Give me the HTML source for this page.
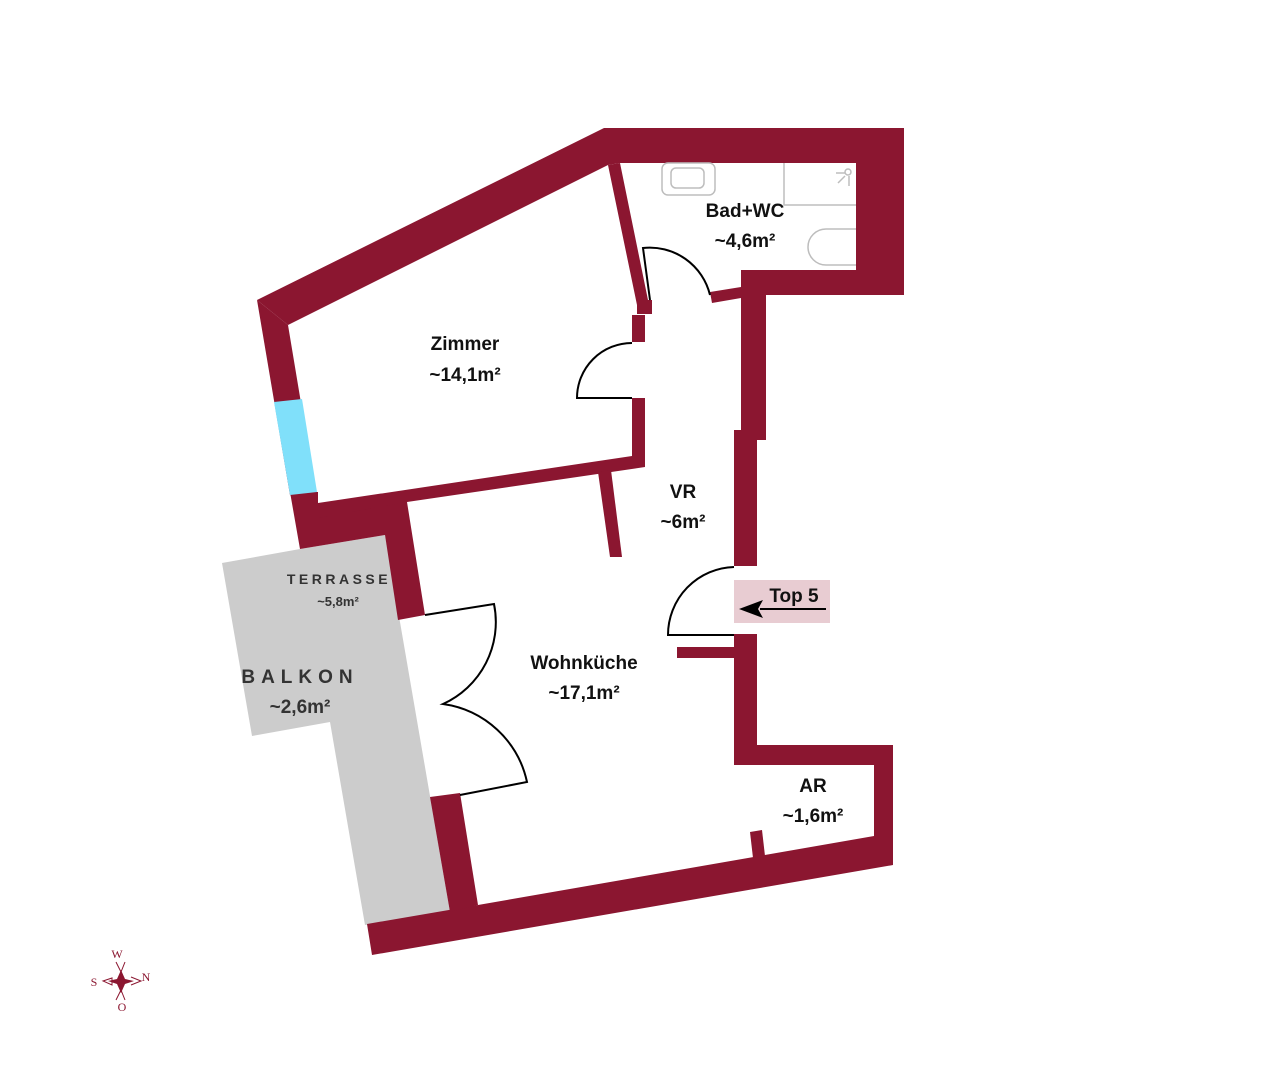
<!DOCTYPE html>
<html><head><meta charset="utf-8"><style>
html,body{margin:0;padding:0;background:#fff;}
svg{display:block;}
text{font-family:"Liberation Sans",sans-serif;}
.serif{font-family:"Liberation Serif",serif;}
</style></head><body>
<svg width="1269" height="1080" viewBox="0 0 1269 1080" xmlns="http://www.w3.org/2000/svg">
<rect width="1269" height="1080" fill="#fff"/>
<polygon points="222,563 300,549 385,535 450,912 365,925 330,722 252,736" fill="#cccccc"/>
<g fill="#8b1630">
<polygon points="257,300 604,128 904,128 904,295 741,295 741,270 856,270 856,163 620,163 608,165 288,325"/>
<polygon points="257,300 288,325 318,505 290,495"/>
<polygon points="290,492 318,492 318,505 407,498 407,502 425,615 398,620 385,535 300,549"/>
<polygon points="318,503 632,456 645,456 645,467 407,502 318,518"/>
<polygon points="632,398 645,398 645,465 632,465"/>
<polygon points="632,315 645,315 645,342 632,342"/>
<polygon points="608,165 620,163 648,300 652,300 652,314 637,314 637,305"/>
<polygon points="710,292 741,287 741,298 712,303"/>
<polygon points="741,270 766,270 766,440 741,440"/>
<polygon points="734,430 757,430 757,566 734,566"/>
<polygon points="734,634 757,634 757,745 734,745"/>
<polygon points="598,472 611,470 622,557 610,557"/>
<polygon points="677,647 734,647 734,658 677,658"/>
<polygon points="734,745 893,745 893,865 372,955 367,924 478,905 874,836 874,765 734,765"/>
<polygon points="750,832 762,830 765,856 753,858"/>
<polygon points="430,797 460,793 478,905 450,912"/>
</g>
<polygon points="274,402 302,399 317,492 290,495" fill="#80e0fa"/>
<g fill="none" stroke="#000" stroke-width="2">
<path d="M632,398 L577,398 A55,55 0 0 1 632,343"/>
<path d="M650,300 L643,248 A62,62 0 0 1 710,295"/>
<path d="M734,635 L668,635 A68,68 0 0 1 734,567"/>
<path d="M425,615 L494,604 A90,90 0 0 1 443,704 A100,100 0 0 1 527,782 L460,795"/>
</g>
<g fill="none" stroke="#bdbdbd" stroke-width="1.5">
<rect x="662" y="163" width="53" height="32" rx="6"/>
<rect x="671" y="168" width="33" height="20" rx="5"/>
<path d="M784,163 V205 H856"/>
<path d="M856,229 H826 A18,18 0 0 0 826,265 H856"/>
<circle cx="848" cy="172" r="3"/>
<path d="M836,173 H845 M845,176 L838,183 M849,176 V186"/>
</g>
<rect x="734" y="580" width="96" height="43" fill="#e8ccd2"/>
<line x1="760" y1="609" x2="826" y2="609" stroke="#000" stroke-width="2"/>
<polygon points="739,609 763,600 758,609 763,618" fill="#000"/>
<g font-weight="bold" fill="#111" font-size="19" text-anchor="middle">
<text x="745" y="217">Bad+WC</text>
<text x="745" y="247">~4,6m²</text>
<text x="465" y="350">Zimmer</text>
<text x="465" y="381">~14,1m²</text>
<text x="683" y="498">VR</text>
<text x="683" y="528">~6m²</text>
<text x="584" y="669">Wohnküche</text>
<text x="584" y="699">~17,1m²</text>
<text x="813" y="792">AR</text>
<text x="813" y="822">~1,6m²</text>
<text x="794" y="602">Top 5</text>
</g>
<g fill="#333" font-weight="bold" text-anchor="middle">
<text x="339" y="584" font-size="14" letter-spacing="3.5">TERRASSE</text>
<text x="338" y="606" font-size="13">~5,8m²</text>
<text x="300" y="683" font-size="19" letter-spacing="6">BALKON</text>
<text x="300" y="713" font-size="19">~2,6m²</text>
</g>
<g fill="#8b1630" stroke="#8b1630">
<polygon points="121,970 125,979 134,981 125,984 121,993 117,984 108,981 117,979" stroke="none"/>
<path d="M116,962 L121,972 L125,962 M103,981 L112,978 L112,985 Z M131,977 L141,981 L131,985 M116,1000 L121,990 L125,1000" fill="none" stroke-width="1"/>
<g stroke="none" font-size="12" text-anchor="middle">
<text class="serif" x="117" y="958">W</text>
<text class="serif" x="94" y="986">S</text>
<text class="serif" x="146" y="981">N</text>
<text class="serif" x="122" y="1011">O</text>
</g>
</g>
</svg>
</body></html>
